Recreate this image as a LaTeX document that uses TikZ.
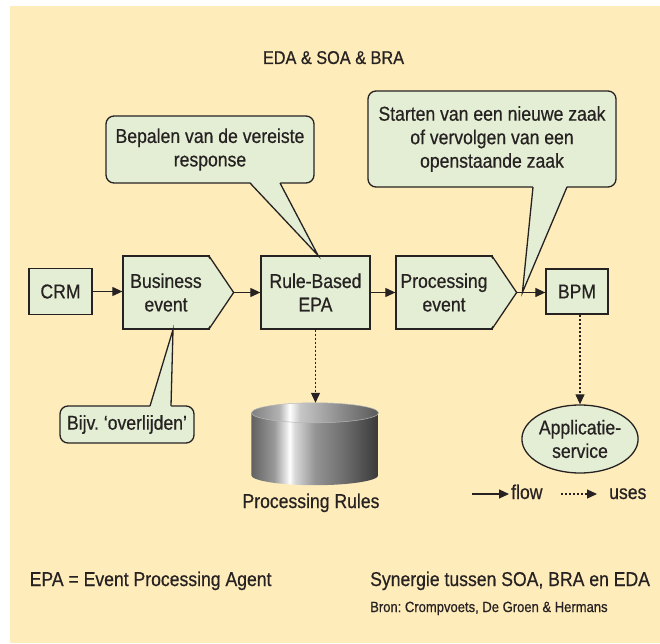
\documentclass[tikz,border=0pt]{standalone}
\usepackage{fontspec}
\setmainfont{Liberation Sans}[FakeStretch=0.88, FakeBold=0.6]
\usepackage{tikz}
\usetikzlibrary{shapes.geometric, arrows.meta, positioning, calc}
\frenchspacing
\definecolor{sandbg}{RGB}{255, 236, 187}
\definecolor{leafgreen}{RGB}{228, 238, 212}
\definecolor{inkgray}{RGB}{38, 34, 34}
\pgfdeclarehorizontalshading{drumside}{100bp}{color(0bp)=(black!62); color(25bp)=(black!62); color(34bp)=(black!40); color(39bp)=(black!8); color(40bp)=(white); color(42bp)=(black!15); color(50bp)=(black!42); color(62bp)=(black!58); color(75bp)=(black!78); color(100bp)=(black!78)}
\pgfdeclarehorizontalshading{drumlid}{100bp}{color(0bp)=(black!50); color(25bp)=(black!50); color(36bp)=(black!30); color(40bp)=(white); color(44bp)=(black!22); color(60bp)=(black!45); color(75bp)=(black!65); color(100bp)=(black!65)}

\begin{document}
\begin{tikzpicture}[x=1pt, y=1pt,
  txt/.style={text=inkgray, font=\fontsize{20}{23.5}\selectfont, align=center, inner sep=0pt},
  bx/.style={txt, draw=inkgray, fill=leafgreen, line width=1.3pt},
  bubble/.style={bx, rounded corners=8pt},
  edge/.style={draw=inkgray, line width=1.3pt, line join=miter},
  flow/.style={-{Triangle[length=10pt, width=9pt]}, line width=1.1pt, inkgray},
  uses/.style={-{Triangle[length=10pt, width=9pt]}, line width=1.2pt, inkgray, dash pattern=on 2pt off 2pt},
]
  \useasboundingbox (0,0) rectangle (660,643);
  \fill[sandbg] (10,0) rectangle (660,637);

  \node[txt, anchor=base, font=\fontsize{18.5}{22}\selectfont] (title) at (333.5,579) {EDA \& SOA \& BRA};

  % main chain
  \node[bx, minimum width=63pt, minimum height=46pt] (crm) at (60.5,351.5) {CRM};
  \node[bx, minimum width=86pt, minimum height=73pt] (bevent) at (166,350.5) {Business\\event};
  \node[bx, minimum width=109pt, minimum height=73pt] (epa) at (315.5,350.5) {Rule-Based\\EPA};
  \node[bx, minimum width=96pt, minimum height=73pt] (pevent) at (444,350.5) {Processing\\event};
  \node[bx, minimum width=62pt, minimum height=45pt] (bpm) at (577,351.5) {BPM};

  % arrow points of the two event boxes
  \coordinate (bevtip) at ($(bevent.east)+(24,0)$);
  \coordinate (pevtip) at ($(pevent.east)+(24,0)$);
  \fill[leafgreen] ($(bevent.north east)+(-1.8,-1.4)$) -- (bevtip) -- ($(bevent.south east)+(-1.8,1.4)$) -- cycle;
  \draw[edge] ($(bevent.north east)+(-0.65,-0.65)$) -- (bevtip) -- ($(bevent.south east)+(-0.65,0.65)$);
  \fill[leafgreen] ($(pevent.north east)+(-1.8,-1.4)$) -- (pevtip) -- ($(pevent.south east)+(-1.8,1.4)$) -- cycle;
  \draw[edge] ($(pevent.north east)+(-0.65,-0.65)$) -- (pevtip) -- ($(pevent.south east)+(-0.65,0.65)$);

  \draw[flow] (crm.east) -- (crm.east -| bevent.west);
  \draw[flow] (bevtip) -- (bevtip -| epa.west);
  \draw[flow] (epa.east) -- (epa.east -| pevent.west);
  \draw[flow] (pevtip) -- (pevtip -| bpm.west);

  % database
  \node[minimum width=127pt, minimum height=82pt, inner sep=0pt] (db) at (315,199) {};
  \shade[shading=drumside] ($(db.north west)+(0,-10)$) -- ($(db.south west)+(0,10)$)
    arc[start angle=180, end angle=360, x radius=63.5, y radius=10] -- ($(db.north east)+(0,-10)$) -- cycle;
  \shade[shading=drumlid] ($(db.north)+(0,-10)$) ellipse[x radius=63.5, y radius=10];
  \draw[black!28, line width=0.5pt] ($(db.north)+(0,-10)$) ellipse[x radius=63.5, y radius=10];
  \node[txt, anchor=base] (dblabel) at (311,135) {Processing Rules};
  \draw[uses] (epa.south) -- (epa.south |- db.north);

  \node[bx, ellipse, minimum width=116pt, minimum height=68pt] (appsvc) at (580,204) {Applicatie-\\service};
  \draw[uses] (appsvc.north |- bpm.south) -- (appsvc.north);

  % callouts
  \node[bubble, minimum width=208pt, minimum height=67pt] (cresp) at (210,493.5) {Bepalen van de vereiste\\response};
  \coordinate (cresptip) at ($(epa.north)+(2.5,0)$);
  \fill[leafgreen] ($(cresp.south)+(40,1.8)$) -- (cresptip) -- ($(cresp.south)+(70,1.8)$) -- cycle;
  \draw[edge] ($(cresp.south)+(40,0.65)$) -- (cresptip) -- ($(cresp.south)+(70,0.65)$);

  \node[bubble, minimum width=248pt, minimum height=96pt] (cstart) at (492,504) {Starten van een nieuwe zaak\\of vervolgen van een\\openstaande zaak};
  \coordinate (cstarttip) at ($(pevtip)!0.2!(pevtip -| bpm.west)$);
  \fill[leafgreen] ($(cstart.south)+(41,1.8)$) -- (cstarttip) -- ($(cstart.south)+(75,1.8)$) -- cycle;
  \draw[edge] ($(cstart.south)+(41,0.65)$) -- (cstarttip) -- ($(cstart.south)+(75,0.65)$);

  \node[bubble, minimum width=134pt, minimum height=37pt] (cbijv) at (127,218.5) {Bijv. ‘overlijden’};
  \coordinate (cbijvtip) at ($(bevent.south)+(7,0)$);
  \fill[leafgreen] ($(cbijv.north)+(23,-1.8)$) -- (cbijvtip) -- ($(cbijv.north)+(44,-1.8)$) -- cycle;
  \draw[edge] ($(cbijv.north)+(23,-0.65)$) -- (cbijvtip) -- ($(cbijv.north)+(44,-0.65)$);

  % legend
  \node[txt, anchor=base west] (lflow) at (511,144) {flow};
  \node[txt, anchor=base west] (luses) at (609,144) {uses};
  \coordinate (lflowa) at (472,149);
  \coordinate (lusesa) at (561,149);
  \draw[flow, shorten >=2pt] (lflowa) -- (lflowa -| lflow.west);
  \draw[uses, shorten >=12pt] (lusesa) -- (lusesa -| luses.west);

  % footer
  \node[txt, anchor=base west] (epadef) at (29.5,57) {EPA = Event Processing Agent};
  \node[txt, anchor=base west] (caption) at (370,57) {Synergie tussen SOA, BRA en EDA};
  \node[txt, anchor=base west, font=\fontsize{14.8}{17}\selectfont] (source) at (370,31) {Bron: Crompvoets, De Groen \& Hermans};
\end{tikzpicture}
\end{document}
